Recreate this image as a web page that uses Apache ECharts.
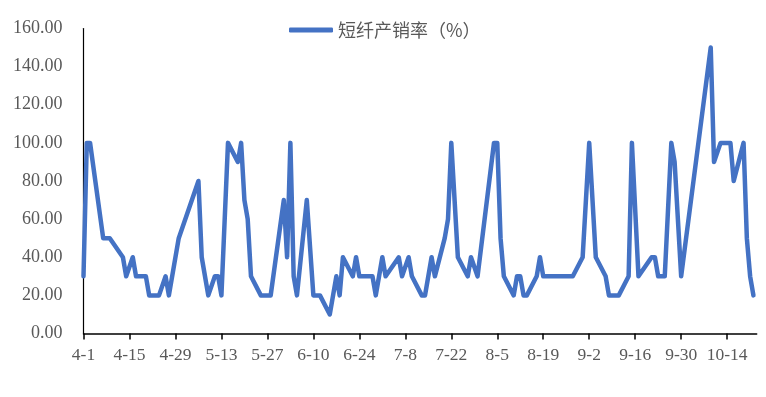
<!DOCTYPE html>
<html>
<head>
<meta charset="utf-8">
<script src="https://cdn.jsdelivr.net/npm/echarts@6/dist/echarts.min.js"></script>
<style>
  html, body { margin: 0; padding: 0; background: #fff; }
  #chart { width: 766px; height: 397px; }
</style>
</head>
<body>
<div id="chart"></div>
<script>
// dates that have a reading, and the reading itself (%)
var pointDates = [
  '4-1', '4-2', '4-3', '4-7', '4-9', '4-13', '4-14', '4-16', '4-17', '4-20',
  '4-21', '4-24', '4-26', '4-27', '4-30', '5-6', '5-7', '5-9', '5-11', '5-12',
  '5-13', '5-15', '5-18', '5-19', '5-20', '5-21', '5-22', '5-25', '5-28', '6-1',
  '6-2', '6-3', '6-4', '6-5', '6-8', '6-10', '6-12', '6-15', '6-17', '6-18',
  '6-19', '6-22', '6-23', '6-24', '6-28', '6-29', '7-1', '7-2', '7-6', '7-7',
  '7-9', '7-10', '7-13', '7-14', '7-16', '7-17', '7-20', '7-21', '7-22', '7-24',
  '7-27', '7-28', '7-30', '8-4', '8-5', '8-6', '8-7', '8-10', '8-11', '8-12',
  '8-13', '8-14', '8-17', '8-18', '8-19', '8-28', '8-31', '9-2', '9-4', '9-7',
  '9-8', '9-11', '9-14', '9-15', '9-17', '9-21', '9-22', '9-23', '9-25', '9-27',
  '9-28', '9-30', '10-9', '10-10', '10-12', '10-15', '10-16', '10-19', '10-20', '10-21',
  '10-22'
];
var pointValues = [
  30, 100, 100, 50, 50, 40, 30, 40, 30, 30,
  20, 20, 30, 20, 50, 80, 40, 20, 30, 30,
  20, 100, 90, 100, 70, 60, 30, 20, 20, 70,
  40, 100, 30, 20, 70, 20, 20, 10, 30, 20,
  40, 30, 40, 30, 30, 20, 40, 30, 40, 30,
  40, 30, 20, 20, 40, 30, 50, 60, 100, 40,
  30, 40, 30, 100, 100, 50, 30, 20, 30, 30,
  20, 20, 30, 40, 30, 30, 40, 100, 40, 30,
  20, 20, 30, 100, 30, 40, 40, 30, 30, 100,
  90, 30, 150, 90, 100, 100, 80, 100, 50, 30,
  20
];
var axisStart = '4-1';
var axisEnd = '10-23';
var seriesName = '短纤产销率（%）';

// daily date axis, like the spreadsheet's date axis
function buildDays(from, to) {
  var f = from.split('-'), t = to.split('-');
  var d = new Date(2019, +f[0] - 1, +f[1]);
  var end = new Date(2019, +t[0] - 1, +t[1]);
  var out = [];
  while (d <= end) {
    out.push((d.getMonth() + 1) + '-' + d.getDate());
    d.setDate(d.getDate() + 1);
  }
  return out;
}
var days = buildDays(axisStart, axisEnd);
var values = days.map(function (day) {
  var i = pointDates.indexOf(day);
  return i < 0 ? null : pointValues[i];
});

var chart = echarts.init(document.getElementById('chart'));
var grey = '#595959';
chart.setOption({
  animation: false,
  legend: {
    data: [seriesName],
    left: 284,
    top: 16,
    icon: 'roundRect',
    itemWidth: 44,
    itemHeight: 5,
    itemGap: 3,
    textStyle: { color: grey, fontSize: 18, fontFamily: 'Noto Sans CJK SC' }
  },
  grid: { left: 83.5, right: 9.3, top: 28.5, bottom: 63.5 },
  xAxis: {
    type: 'category',
    data: days,
    boundaryGap: false,
    axisLine: { lineStyle: { color: '#000', width: 1.5 } },
    axisTick: { interval: 13, length: 6, lineStyle: { color: '#000', width: 1.5 } },
    axisLabel: {
      interval: 13,
      margin: 13,
      color: grey,
      fontSize: 17.5,
      fontFamily: 'Liberation Serif'
    },
    splitLine: { show: false }
  },
  yAxis: {
    type: 'value',
    min: 0,
    max: 160,
    interval: 20,
    axisLine: { show: true, lineStyle: { color: '#000', width: 1.2 } },
    axisTick: { show: false },
    splitLine: { show: false },
    axisLabel: {
      margin: 21,
      padding: [4, 0, 0, 0],
      color: grey,
      fontSize: 18,
      fontFamily: 'Liberation Serif',
      formatter: function (v) { return v.toFixed(2); }
    }
  },
  series: [{
    name: seriesName,
    type: 'line',
    data: values,
    connectNulls: true,
    symbol: 'none',
    lineStyle: { color: '#4472C4', width: 4.5, join: 'round', cap: 'round' },
    itemStyle: { color: '#4472C4' }
  }]
});
</script>
</body>
</html>
